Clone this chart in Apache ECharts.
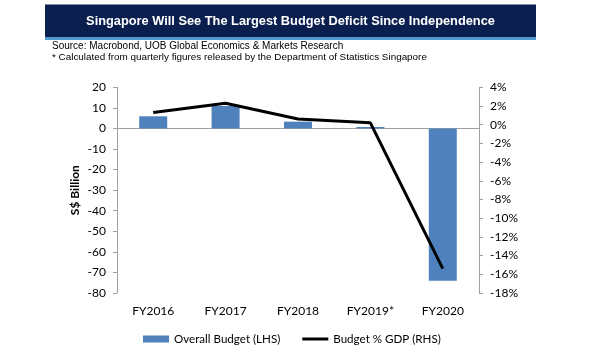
<!DOCTYPE html>
<html>
<head>
<meta charset="utf-8">
<script src="https://cdn.jsdelivr.net/npm/echarts@6/dist/echarts.min.js"></script>
<style>html,body{margin:0;padding:0;background:#fff;}#c{width:600px;height:360px;}</style>
</head>
<body>
<div id="c"></div>
<script>
const categories = ['FY2016', 'FY2017', 'FY2018', 'FY2019*', 'FY2020'];
const overallBudget = [5.9, 10.9, 3.3, 0.7, -74];
const budgetGdp = [1.3, 2.3, 0.6, 0.2, -15.4];
const leftTicks = { min: -80, max: 20, interval: 10 };
const rightTicks = { min: -18, max: 4, interval: 2 };

const titleText = 'Singapore Will See The Largest Budget Deficit Since Independence';
const sourceLines = [
  'Source: Macrobond, UOB Global Economics & Markets Research',
  '* Calculated from quarterly figures released by the Department of Statistics Singapore'
];

const axisGray = '#A0A0A0';
const labelFont = { fontFamily: 'Lato', fontSize: 12, color: '#000' };

const chart = echarts.init(document.getElementById('c'), null, { renderer: 'canvas' });
chart.setOption({
  animation: false,
  backgroundColor: '#fff',
  graphic: [
    { type: 'rect', shape: { x: 45, y: 4.5, width: 491, height: 33 }, style: { fill: '#0B1F4F' }, z: 1 },
    { type: 'rect', shape: { x: 45, y: 37.5, width: 491, height: 2.5 }, style: { fill: '#4A9BD5' }, z: 1 },
    { type: 'text', x: 290.5, y: 21.5, style: { text: titleText, fill: '#fff', font: 'bold 12.8px "Liberation Sans", Arial', align: 'center', verticalAlign: 'middle' }, z: 2 },
    { type: 'text', x: 52, y: 46.5, style: { text: sourceLines[0], fill: '#000', font: '10px "Liberation Sans", Arial', align: 'left', verticalAlign: 'middle' }, z: 2 },
    { type: 'text', x: 52, y: 57.5, style: { text: sourceLines[1], fill: '#000', font: '9.9px "Liberation Sans", Arial', align: 'left', verticalAlign: 'middle' }, z: 2 }
  ],
  grid: { left: 117, right: 121, top: 87.3, bottom: 67, containLabel: false },
  legend: {
    left: 138, top: 328, itemWidth: 26, itemHeight: 7, itemGap: 22,
    textStyle: { fontFamily: 'Lato', fontSize: 11.6, color: '#000' },
    data: [
      { name: 'Overall Budget (LHS)', icon: 'rect' },
      { name: 'Budget % GDP (RHS)', icon: 'path://M0,0H26V3H0Z' }
    ]
  },
  xAxis: [
    {
      type: 'category', data: categories, position: 'bottom',
      axisLine: { show: true, onZero: true, onZeroAxisIndex: 0, lineStyle: { color: axisGray, width: 1 } },
      axisTick: { show: false }, axisLabel: { show: false }, splitLine: { show: false }
    },
    {
      type: 'category', data: categories, position: 'bottom', gridIndex: 0,
      axisLine: { show: false, onZero: false }, axisTick: { show: false },
      axisLabel: Object.assign({ margin: 12 }, labelFont), splitLine: { show: false }
    }
  ],
  yAxis: [
    {
      type: 'value', min: leftTicks.min, max: leftTicks.max, interval: leftTicks.interval,
      name: 'S$ Billion', nameLocation: 'middle', nameGap: 36, nameRotate: 90, nameMoveOverlap: false,
      nameTextStyle: { fontFamily: 'Lato', fontSize: 12, fontWeight: 'bold', color: '#000' },
      axisLine: { show: true, lineStyle: { color: axisGray } },
      axisTick: { show: true, length: 4, inside: false, lineStyle: { color: axisGray } },
      axisLabel: Object.assign({ margin: 11 }, labelFont),
      splitLine: { show: false }
    },
    {
      type: 'value', min: rightTicks.min, max: rightTicks.max, interval: rightTicks.interval, position: 'right',
      axisLine: { show: true, lineStyle: { color: axisGray } },
      axisTick: { show: true, length: 4, inside: false, lineStyle: { color: axisGray } },
      axisLabel: Object.assign({ margin: 11, formatter: v => v + '%' }, labelFont),
      splitLine: { show: false }
    }
  ],
  series: [
    {
      name: 'Overall Budget (LHS)', type: 'bar', data: overallBudget, xAxisIndex: 0, yAxisIndex: 0,
      barWidth: 28, itemStyle: { color: '#4F81BD' }, z: 2
    },
    {
      name: 'Budget % GDP (RHS)', type: 'line', data: budgetGdp, xAxisIndex: 0, yAxisIndex: 1,
      showSymbol: false, symbol: 'none', lineStyle: { color: '#000', width: 3 }, itemStyle: { color: '#000' }, z: 3
    }
  ]
});
</script>
</body>
</html>
